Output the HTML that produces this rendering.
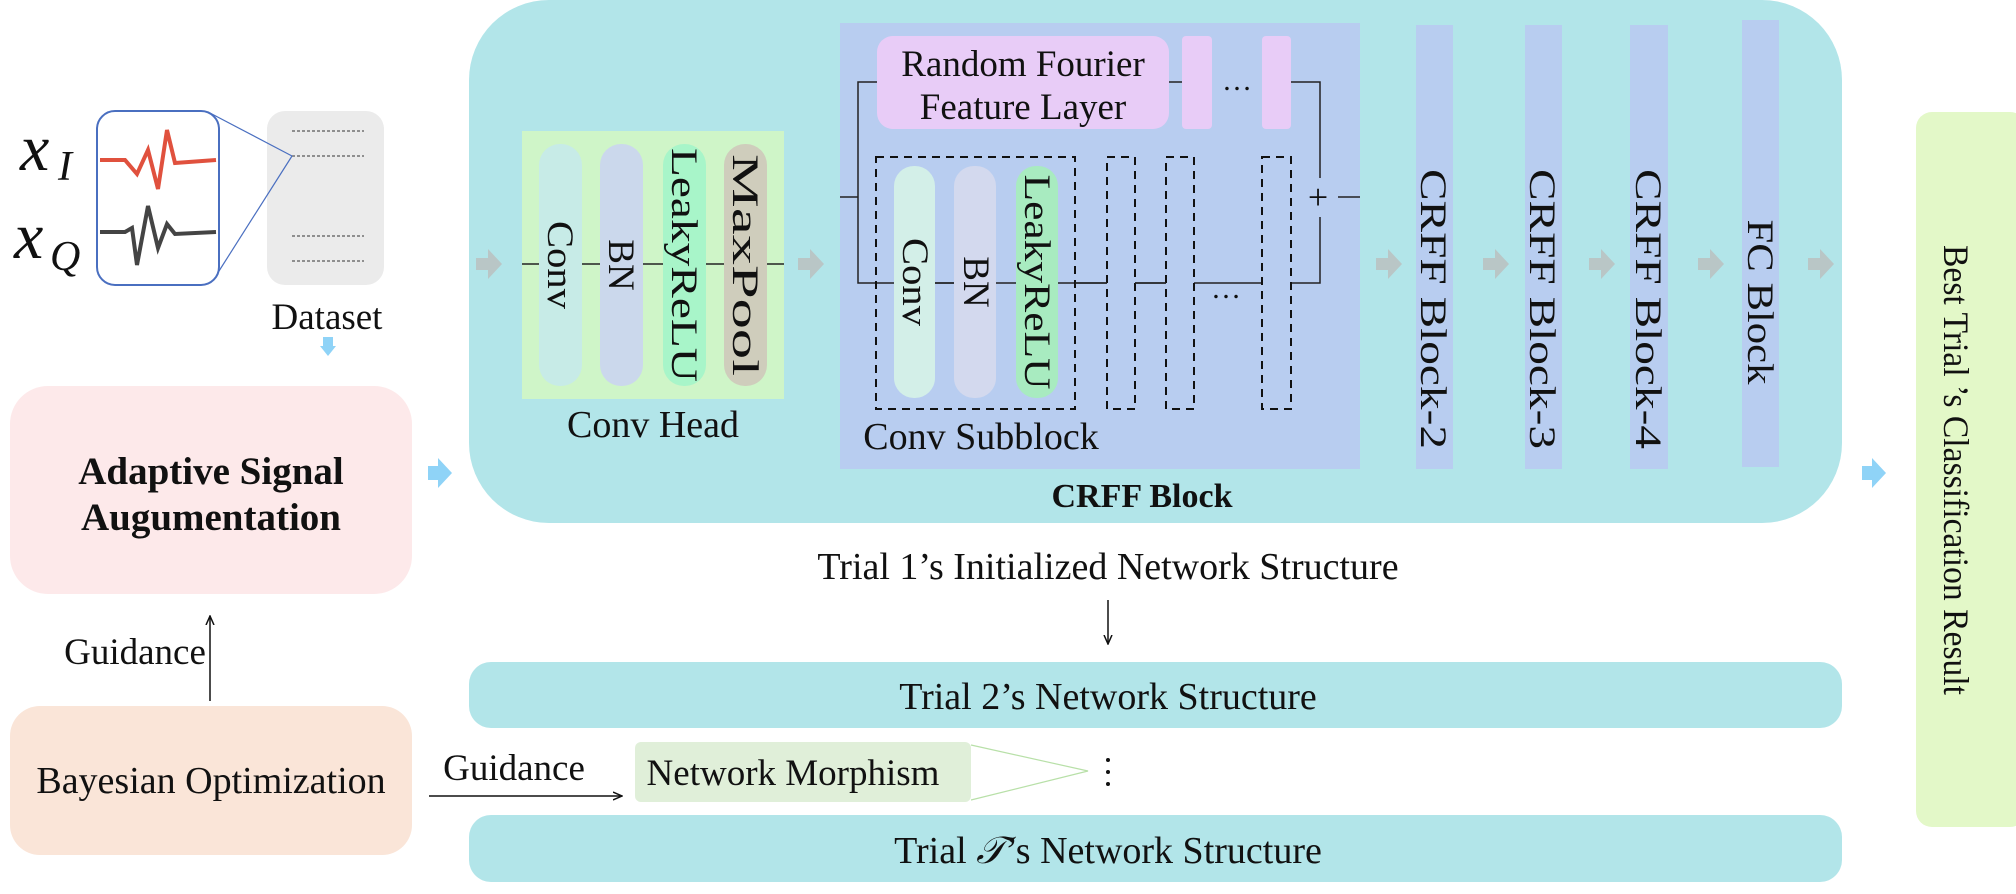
<!DOCTYPE html>
<html><head><meta charset="utf-8"><style>
html,body{margin:0;padding:0;background:#fff}
svg{display:block}
text{font-family:"Liberation Serif",serif;fill:#111}
</style></head><body>
<svg width="2016" height="894" viewBox="0 0 2016 894" xmlns="http://www.w3.org/2000/svg">
<defs>
<marker id="ah" markerWidth="10" markerHeight="10" refX="9" refY="5" orient="auto" markerUnits="userSpaceOnUse"><path d="M0,1 L9,5 L0,9" fill="none" stroke="#111" stroke-width="1.5"/></marker>
</defs>
<rect x="469" y="0" width="1373" height="523" rx="80" fill="#b2e5e9"/>
<!-- conv head -->
<rect x="522" y="131" width="262" height="268" fill="#cff5c8"/>
<line x1="522" y1="264" x2="784" y2="264" stroke="#222" stroke-width="1.5"/>
<rect x="539" y="144" width="43" height="242" rx="21" fill="#c7ebe7"/>
<rect x="600" y="144" width="43" height="242" rx="21" fill="#cbd8ec"/>
<rect x="663" y="144" width="43" height="242" rx="21" fill="#a8f5c9"/>
<rect x="724" y="144" width="43" height="242" rx="21" fill="#cfcdbc"/>
<g font-size="37">
<text transform="translate(548,265) rotate(90)" text-anchor="middle" textLength="88" lengthAdjust="spacingAndGlyphs">Conv</text>
<text transform="translate(609,265) rotate(90)" text-anchor="middle">BN</text>
<text transform="translate(672,265) rotate(90)" text-anchor="middle" textLength="234" lengthAdjust="spacingAndGlyphs">LeakyReLU</text>
<text transform="translate(733,265) rotate(90)" text-anchor="middle" textLength="222" lengthAdjust="spacingAndGlyphs">MaxPool</text>
</g>
<text x="653" y="437" font-size="38" text-anchor="middle">Conv Head</text>
<!-- conv subblock -->
<rect x="840" y="23" width="520" height="446" fill="#b8cdf0"/>
<rect x="877" y="36" width="292" height="93" rx="16" fill="#e8ccf7"/>
<text x="1023" y="76" font-size="37" text-anchor="middle">Random Fourier</text>
<text x="1023" y="119" font-size="37" text-anchor="middle">Feature Layer</text>
<rect x="1182" y="36" width="30" height="93" rx="4" fill="#e8ccf7"/>
<rect x="1262" y="36" width="29" height="93" rx="4" fill="#e8ccf7"/>
<text x="1237" y="90" font-size="30" text-anchor="middle">…</text>
<g stroke="#222" stroke-width="1.5" fill="none">
<line x1="1169" y1="82" x2="1182" y2="82"/>
<polyline points="840,197 858,197"/>
<polyline points="877,82 858,82 858,283 894,283"/>
<line x1="894" y1="283" x2="1291" y2="283"/>
<polyline points="1291,82 1320,82 1320,178"/>
<polyline points="1291,283 1320,283 1320,217"/>
<line x1="1338" y1="197" x2="1360" y2="197"/>
</g>
<rect x="876" y="157" width="199" height="252" fill="none" stroke="#111" stroke-width="2" stroke-dasharray="8,6"/>
<rect x="894" y="166" width="41" height="232" rx="20" fill="#d3efe8"/>
<rect x="954" y="166" width="42" height="232" rx="20" fill="#d3d9ee"/>
<rect x="1016" y="166" width="42" height="232" rx="20" fill="#a8ebc0"/>
<line x1="935" y1="283" x2="954" y2="283" stroke="#222" stroke-width="1.5"/>
<g font-size="37">
<text transform="translate(903,282) rotate(90)" text-anchor="middle" textLength="88" lengthAdjust="spacingAndGlyphs">Conv</text>
<text transform="translate(964,282) rotate(90)" text-anchor="middle">BN</text>
<text transform="translate(1025,282) rotate(90)" text-anchor="middle" textLength="215" lengthAdjust="spacingAndGlyphs">LeakyReLU</text>
</g>
<rect x="1107" y="157" width="28" height="252" fill="#b8cdf0" stroke="#111" stroke-width="2" stroke-dasharray="8,6"/>
<rect x="1166" y="157" width="28" height="252" fill="#b8cdf0" stroke="#111" stroke-width="2" stroke-dasharray="8,6"/>
<rect x="1262" y="157" width="29" height="252" fill="#b8cdf0" stroke="#111" stroke-width="2" stroke-dasharray="8,6"/>
<line x1="1075" y1="283" x2="1107" y2="283" stroke="#222" stroke-width="1.5"/>
<line x1="1135" y1="283" x2="1166" y2="283" stroke="#222" stroke-width="1.5"/>
<text x="1226" y="298" font-size="30" text-anchor="middle">…</text>
<text x="1318" y="209" font-size="36" text-anchor="middle">+</text>
<text x="981" y="449" font-size="38" text-anchor="middle">Conv Subblock</text>
<!-- CRFF columns -->
<rect x="1416" y="25" width="37" height="444" fill="#b8cdf0"/>
<rect x="1525" y="25" width="37" height="444" fill="#b8cdf0"/>
<rect x="1630" y="25" width="38" height="444" fill="#b8cdf0"/>
<rect x="1742" y="20" width="37" height="447" fill="#b8cdf0"/>
<g font-size="37">
<text transform="translate(1421,309) rotate(90)" text-anchor="middle" textLength="280" lengthAdjust="spacingAndGlyphs">CRFF Block-2</text>
<text transform="translate(1530,309) rotate(90)" text-anchor="middle" textLength="280" lengthAdjust="spacingAndGlyphs">CRFF Block-3</text>
<text transform="translate(1636,309) rotate(90)" text-anchor="middle" textLength="280" lengthAdjust="spacingAndGlyphs">CRFF Block-4</text>
<text transform="translate(1748,302) rotate(90)" text-anchor="middle" textLength="165" lengthAdjust="spacingAndGlyphs">FC Block</text>
</g>
<text x="1142" y="507" font-size="34" font-weight="bold" text-anchor="middle">CRFF Block</text>
<g fill="#b9c6c6">
<path d="M476,258 h12 v-9 l14,15 l-14,15 v-9 h-12z"/>
<path d="M798,258 h12 v-9 l14,15 l-14,15 v-9 h-12z"/>
<path d="M1376,258 h12 v-9 l14,15 l-14,15 v-9 h-12z"/>
<path d="M1483,258 h12 v-9 l14,15 l-14,15 v-9 h-12z"/>
<path d="M1589,258 h12 v-9 l14,15 l-14,15 v-9 h-12z"/>
<path d="M1698,258 h12 v-9 l14,15 l-14,15 v-9 h-12z"/>
<path d="M1808,258 h12 v-9 l14,15 l-14,15 v-9 h-12z"/>
</g>
<!-- trials -->
<text x="1108" y="579" font-size="38" text-anchor="middle">Trial 1’s Initialized Network Structure</text>
<line x1="1108" y1="600" x2="1108" y2="644" stroke="#111" stroke-width="1.5" marker-end="url(#ah)"/>
<rect x="469" y="662" width="1373" height="66" rx="22" fill="#b2e5e9"/>
<text x="1108" y="709" font-size="38" text-anchor="middle">Trial 2’s Network Structure</text>
<rect x="469" y="815" width="1373" height="67" rx="22" fill="#b2e5e9"/>
<text x="1108" y="863" font-size="38" text-anchor="middle">Trial <tspan font-style="italic">𝒯</tspan>’s Network Structure</text>
<rect x="635" y="742" width="336" height="60" rx="6" fill="#e0efd9"/>
<text x="793" y="785" font-size="37" text-anchor="middle">Network Morphism</text>
<polyline points="971,745 1088,771 971,800" fill="none" stroke="#b8e0a8" stroke-width="1.2"/>
<g fill="#111"><circle cx="1108" cy="760" r="2"/><circle cx="1108" cy="772" r="2"/><circle cx="1108" cy="784" r="2"/></g>
<line x1="429" y1="796" x2="622" y2="796" stroke="#111" stroke-width="1.5" marker-end="url(#ah)"/>
<text x="514" y="780" font-size="37" text-anchor="middle">Guidance</text>
<!-- left side -->
<rect x="10" y="386" width="402" height="208" rx="38" fill="#fde9ea"/>
<text x="211" y="484" font-size="39" font-weight="bold" text-anchor="middle">Adaptive  Signal</text>
<text x="211" y="530" font-size="39" font-weight="bold" text-anchor="middle">Augumentation</text>
<rect x="10" y="706" width="402" height="149" rx="30" fill="#fae5d8"/>
<text x="211" y="793" font-size="38" text-anchor="middle">Bayesian Optimization</text>
<line x1="210" y1="701" x2="210" y2="616" stroke="#111" stroke-width="1.5" marker-end="url(#ah)"/>
<text x="135" y="664" font-size="37" text-anchor="middle">Guidance</text>
<!-- signal -->
<rect x="97" y="111" width="122" height="174" rx="18" fill="#fff" stroke="#4a6fc0" stroke-width="2"/>
<polyline points="100,160 125,160 137,174 148,150 158,189 167,130 175,163 216,160" fill="none" stroke="#e0513e" stroke-width="4"/>
<polyline points="100,232 125,232 132,228 137,265 148,206 158,248 167,224 175,234 216,232" fill="none" stroke="#444" stroke-width="4"/>
<rect x="267" y="111" width="117" height="174" rx="18" fill="#ebebeb"/>
<g stroke="#333" stroke-width="1" stroke-dasharray="3,2">
<line x1="292" y1="131" x2="364" y2="131"/><line x1="292" y1="156" x2="364" y2="156"/>
<line x1="292" y1="236" x2="364" y2="236"/><line x1="292" y1="261" x2="364" y2="261"/>
</g>
<line x1="210" y1="113" x2="292" y2="156" stroke="#4a6fc0" stroke-width="1.2"/>
<line x1="219" y1="271" x2="292" y2="156" stroke="#4a6fc0" stroke-width="1.2"/>
<text x="20" y="170" font-size="66" font-style="italic">x</text><text x="58" y="180" font-size="42" font-style="italic">I</text>
<text x="14" y="258" font-size="66" font-style="italic">x</text><text x="50" y="270" font-size="42" font-style="italic">Q</text>
<text x="327" y="329" font-size="37" text-anchor="middle">Dataset</text>
<g fill="#8fd3f7">
<path d="M320,346 h16 l-8,10 z M323,337 h10 v10 h-10z"/>
<path d="M428,466 h10 v-8 l14,15 l-14,15 v-8 h-10z"/>
<path d="M1862,466 h10 v-8 l14,15 l-14,15 v-8 h-10z"/>
</g>
<rect x="1916" y="112" width="110" height="715" rx="16" fill="#e3f8c8"/>
<text transform="translate(1944,470) rotate(90)" font-size="36" text-anchor="middle" textLength="450" lengthAdjust="spacingAndGlyphs">Best Trial ’s Classification Result</text>
</svg>
</body></html>
